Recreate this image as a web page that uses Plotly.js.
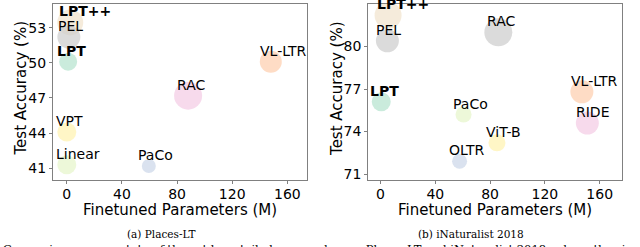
<!DOCTYPE html>
<html>
<head>
<meta charset="utf-8">
<script src="https://cdn.plot.ly/plotly-3.0.1.min.js"></script>
<style>html,body{margin:0;padding:0;background:#fff;}#chart{width:640px;height:247px;}</style>
</head>
<body>
<div id="chart"></div>
<script>
// ---- Data: Places-LT ----
const placesNames  = ['LPT++', 'PEL', 'LPT', 'VL-LTR', 'RAC', 'VPT', 'Linear', 'PaCo'];
const placesParams = [2.5, 1.5, 1, 148, 88, 0, 0, 59.5];
const placesAcc    = [53.45, 52.2, 50.1, 50.1, 47.2, 44.1, 41.3, 41.2];
const placesBubble = [26, 23, 18, 22, 28, 19, 19, 14];

// ---- Data: iNaturalist 2018 ----
const inatNames  = ['LPT++', 'PEL', 'RAC', 'LPT', 'VL-LTR', 'RIDE', 'PaCo', 'ViT-B', 'OLTR'];
const inatParams = [5.5, 5, 86, 0.5, 147, 151, 60.6, 85, 57.7];
const inatAcc    = [82.2, 80.4, 81.0, 76.1, 76.8, 74.6, 75.2, 73.2, 71.9];
const inatBubble = [27, 23, 28, 19, 23, 23, 16, 17, 15];

// ---- Tick labels / titles ----
const xTicks = [0, 40, 80, 120, 160];
const placesYTicks = [41, 44, 47, 50, 53];
const inatYTicks = [71, 74, 77, 80];
const boldNames = ['LPT++', 'LPT'];
const xTitleText = 'Finetuned Parameters (M)';
const yTitleText = 'Test Accuracy (%)';
const subCaptions = ['(a) Places-LT', '(b) iNaturalist 2018'];
const captionText = 'Comparison among state-of-the-art long-tailed approaches on Places-LT and iNaturalist 2018, where the size of';

// ---- Styles ----
const pastel = {
  'LPT++': '#f1e2cc', 'PEL': '#cccccc', 'LPT': '#b3e2cd', 'VL-LTR': '#fdcdac',
  'RAC': '#f4cae4', 'VPT': '#fff2ae', 'Linear': '#e6f5c9', 'PaCo': '#cbd5e8'
};
const inatColors = {
  'LPT++': '#f1e2cc', 'PEL': '#cccccc', 'RAC': '#cccccc', 'LPT': '#b3e2cd', 'VL-LTR': '#fdcdac',
  'RIDE': '#f4cae4', 'PaCo': '#e6f5c9', 'ViT-B': '#fff2ae', 'OLTR': '#cbd5e8'
};

const FONT = 'DejaVu Sans';
const SERIF = 'DejaVu Serif';

function bubbles(names, xs, ys, sizes, colors, xa, ya) {
  return {
    type: 'scatter', mode: 'markers', x: xs, y: ys, xaxis: xa, yaxis: ya,
    marker: { size: sizes, color: names.map(n => colors[n]), opacity: 0.7, line: { width: 0 } },
    hoverinfo: 'skip', showlegend: false
  };
}

function labels(names, xs, ys, xref, yref) {
  return names.map((n, i) => ({
    x: xs[i], y: ys[i], xref: xref, yref: yref,
    text: boldNames.includes(n) ? '<b>' + n + '</b>' : n,
    showarrow: false, xanchor: 'left', yanchor: 'middle', xshift: -13, yshift: 11,
    font: { family: FONT, size: 14, color: '#000' }
  }));
}

const traces = [
  bubbles(placesNames, placesParams, placesAcc, placesBubble, pastel, 'x', 'y'),
  bubbles(inatNames, inatParams, inatAcc, inatBubble, inatColors, 'x2', 'y2')
];

const axisStyle = {
  showline: true, mirror: true, linecolor: '#808080', linewidth: 1,
  ticks: 'outside', ticklen: 3, tickcolor: '#808080', tickwidth: 1,
  showgrid: false, zeroline: false,
  tickfont: { family: FONT, size: 14, color: '#000' }
};

const titleFont = { family: FONT, size: 15, color: '#000' };
function xTitleAnn(x) {
  return { text: xTitleText, xref: 'paper', yref: 'paper', x: x, y: -0.17,
    xanchor: 'center', yanchor: 'middle', showarrow: false, font: titleFont };
}
function yTitleAnn(x) {
  return { text: yTitleText, xref: 'paper', yref: 'paper', x: x, y: 0.52, textangle: -90,
    xanchor: 'center', yanchor: 'middle', showarrow: false, font: titleFont };
}

const layout = {
  width: 640, height: 247,
  margin: { l: 53, r: 18, t: 4, b: 67 },
  paper_bgcolor: '#fff', plot_bgcolor: '#fff',
  xaxis: Object.assign({}, axisStyle, { domain: [0, 0.447], range: [-10, 174.5], tickvals: xTicks, anchor: 'y', ticklabelstandoff: -2 }),
  yaxis: Object.assign({}, axisStyle, { domain: [0, 1], range: [40, 55.02], tickvals: placesYTicks, anchor: 'x' }),
  xaxis2: Object.assign({}, axisStyle, { domain: [0.554, 1], range: [-9, 176.3], tickvals: xTicks, anchor: 'y2', ticklabelstandoff: -2 }),
  yaxis2: Object.assign({}, axisStyle, { domain: [0, 1], range: [70.58, 83.0], tickvals: inatYTicks, anchor: 'x2' }),
  annotations: labels(placesNames, placesParams, placesAcc, 'x', 'y')
    .concat(labels(inatNames, inatParams, inatAcc, 'x2', 'y2'))
    .concat([
      xTitleAnn(0.2235), xTitleAnn(0.777),
      yTitleAnn(-0.0562), yTitleAnn(0.5),
      { text: subCaptions[0], xref: 'paper', yref: 'paper', x: 0.1907, y: -0.305,
        xanchor: 'center', yanchor: 'middle', showarrow: false,
        font: { family: SERIF, size: 10.5, color: '#000' } },
      { text: subCaptions[1], xref: 'paper', yref: 'paper', x: 0.7355, y: -0.305,
        xanchor: 'center', yanchor: 'middle', showarrow: false,
        font: { family: SERIF, size: 10.5, color: '#000' } },
      { text: captionText,
        xref: 'paper', yref: 'paper', x: -0.0914, y: -0.343,
        xanchor: 'left', yanchor: 'top', showarrow: false,
        font: { family: SERIF, size: 11.5, color: '#000' } }
    ])
};

Plotly.newPlot('chart', traces, layout, { staticPlot: true, displayModeBar: false });
</script>
</body>
</html>
